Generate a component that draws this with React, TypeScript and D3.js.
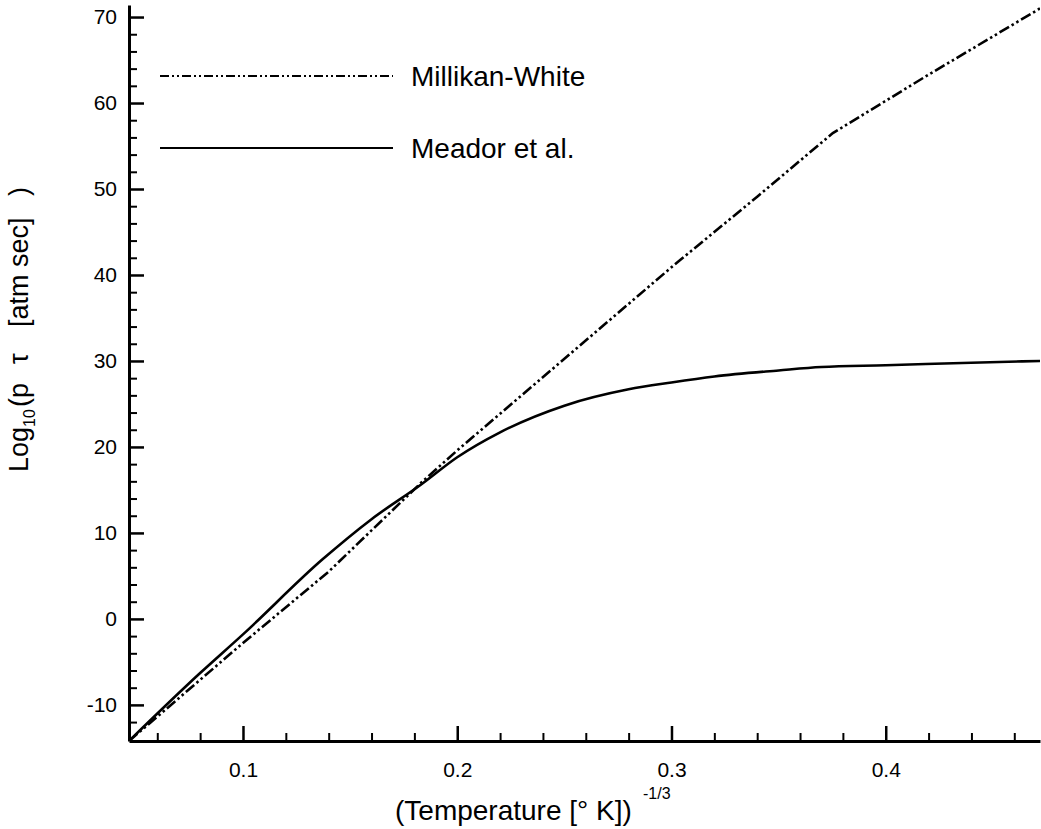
import React, { useRef, useEffect } from 'react'
import * as d3 from 'd3'

// (Temperature)^-1/3 vs Log10(p tau)
const millikanX = [0.0468, 0.1, 0.14, 0.183, 0.2, 0.3, 0.34, 0.3753, 0.42, 0.472]
const millikanY = [-14.2, -2.8, 5.5, 15.8, 19.6, 40.9, 49.1, 56.5, 63.3, 71.0]

const meadorX = [0.0468, 0.08, 0.1, 0.137, 0.16, 0.183, 0.2, 0.22, 0.25, 0.28, 0.3, 0.32, 0.35, 0.37, 0.4, 0.44, 0.472]
const meadorY = [-14.2, -6.3, -1.8, 6.9, 11.6, 15.6, 18.8, 21.7, 24.8, 26.7, 27.5, 28.2, 28.9, 29.3, 29.5, 29.8, 30.0]

const yMajor = [-10, 0, 10, 20, 30, 40, 50, 60, 70]
const yMinor = [-12, -8, -6, -4, -2, 2, 4, 6, 8, 12, 14, 16, 18, 22, 24, 26, 28, 32, 34, 36, 38, 42, 44, 46, 48, 52, 54, 56, 58, 62, 64, 66, 68]
const xMajor = [0.1, 0.2, 0.3, 0.4]
const xMinor = [0.06, 0.08, 0.12, 0.14, 0.16, 0.18, 0.22, 0.24, 0.26, 0.28, 0.32, 0.34, 0.36, 0.38, 0.42, 0.44, 0.46]

const legendNames = ['Millikan-White', 'Meador et al.']

const FONT = '"Liberation Sans", Arial, Helvetica, sans-serif'

const App = () => {
  const container = useRef(null)

  const width = 1041
  const height = 829
  const left = 129
  const right = 1040
  const top = 5
  const bottom = 741

  useEffect(() => {
    const svg = d3.select(container.current)
    svg.selectAll('*').remove()

    const x = d3.scaleLinear().domain([0.0468, 0.472]).range([left, right])
    const y = d3.scaleLinear().domain([-14.2, 71.4]).range([bottom, top])

    svg.append('defs').append('clipPath').attr('id', 'plot')
      .append('rect')
      .attr('x', left).attr('y', top)
      .attr('width', right - left).attr('height', bottom - top)

    // minor ticks
    svg.append('g')
      .attr('transform', `translate(${left},0)`)
      .call(d3.axisLeft(y).tickValues(yMinor).tickSize(-8).tickSizeOuter(0).tickFormat(() => ''))
      .call(g => g.select('.domain').remove())
      .call(g => g.selectAll('line').attr('stroke-width', 2))

    svg.append('g')
      .attr('transform', `translate(0,${bottom})`)
      .call(d3.axisBottom(x).tickValues(xMinor).tickSize(-8).tickSizeOuter(0).tickFormat(() => ''))
      .call(g => g.select('.domain').remove())
      .call(g => g.selectAll('line').attr('stroke-width', 2))

    // major ticks + labels
    svg.append('g')
      .attr('transform', `translate(${left},0)`)
      .call(d3.axisLeft(y).tickValues(yMajor).tickSize(-15).tickSizeOuter(0).tickPadding(12).tickFormat(d => String(d)))
      .call(g => g.select('.domain').attr('stroke-width', 3))
      .call(g => g.selectAll('line').attr('stroke-width', 2.5))
      .call(g => g.selectAll('text').style('font-family', FONT).style('font-size', '21px').attr('fill', '#000'))

    svg.append('g')
      .attr('transform', `translate(0,${bottom})`)
      .call(d3.axisBottom(x).tickValues(xMajor).tickSize(-15).tickSizeOuter(0).tickPadding(21).tickFormat(d3.format('.1f')))
      .call(g => g.select('.domain').attr('stroke-width', 3))
      .call(g => g.selectAll('line').attr('stroke-width', 2.5))
      .call(g => g.selectAll('text').style('font-family', FONT).style('font-size', '21px').attr('fill', '#000'))

    // curves
    const millikan = millikanX.map((v, i) => [v, millikanY[i]])
    const meador = meadorX.map((v, i) => [v, meadorY[i]])

    const line = d3.line().x(d => x(d[0])).y(d => y(d[1]))

    const g = svg.append('g').attr('clip-path', 'url(#plot)')

    g.append('path')
      .attr('d', line(millikan))
      .attr('fill', 'none')
      .attr('stroke', '#000')
      .attr('stroke-width', 2.6)
      .attr('stroke-dasharray', '11,3,2.5,3,2.5,3')

    g.append('path')
      .attr('d', line.curve(d3.curveMonotoneX)(meador))
      .attr('fill', 'none')
      .attr('stroke', '#000')
      .attr('stroke-width', 2.6)

    // legend
    const legend = svg.append('g')
    legendNames.forEach((name, i) => {
      const ly = 76 + i * 72
      legend.append('line')
        .attr('x1', 160).attr('x2', 393)
        .attr('y1', ly).attr('y2', ly)
        .attr('stroke', '#000')
        .attr('stroke-width', 2)
        .attr('stroke-dasharray', i === 0 ? '9,3,2,3,2,3' : null)
      legend.append('text')
        .attr('x', 411)
        .attr('y', ly + 9.5)
        .style('font-family', FONT)
        .style('font-size', '28px')
        .attr('fill', '#000')
        .text(name)
    })

    // x title
    const xt = svg.append('text')
      .attr('x', 395)
      .attr('y', 820)
      .style('font-family', FONT)
      .style('font-size', '28px')
      .attr('fill', '#000')
    xt.append('tspan').text('(Temperature [° K])')
    xt.append('tspan').attr('x', 643).attr('y', 799).style('font-size', '16px').text('-1/3')

    // y title, rotated
    const yt = svg.append('text')
      .attr('transform', 'translate(28,472) rotate(-90)')
      .style('font-family', FONT)
      .style('font-size', '27px')
      .attr('fill', '#000')
    yt.append('tspan').attr('x', 0).attr('y', 0).text('Log')
    yt.append('tspan').attr('x', 45).attr('y', 7).style('font-size', '16px').text('10')
    yt.append('tspan').attr('x', 65).attr('y', 0).text('(p')
    yt.append('tspan').attr('x', 108).attr('y', 0).text('τ')
    yt.append('tspan').attr('x', 145).attr('y', 0).text('[atm sec]')
    yt.append('tspan').attr('x', 276).attr('y', 0).text(')')

  }, [])

  return (
    <svg
      width={width}
      height={height}
      style={{ position: 'absolute', left: 0, top: 0, background: '#fff' }}
      ref={container}>
    </svg>
  )
}

export default App
